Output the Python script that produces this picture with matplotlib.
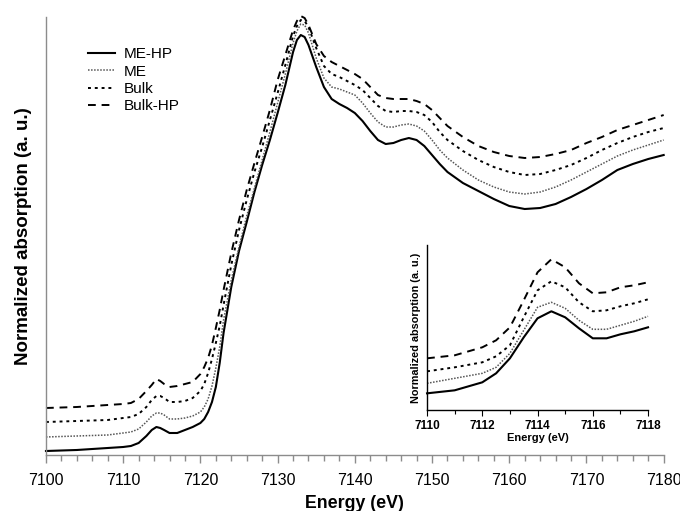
import numpy as np
import matplotlib
matplotlib.use('Agg')
import matplotlib.pyplot as plt
from matplotlib.ticker import MultipleLocator

plt.rcParams['font.family'] = ['Liberation Sans', 'DejaVu Sans']

# Main spectra (normalized absorption, offset for clarity)
energy = [7100, 7104, 7108, 7110, 7111, 7112, 7113, 7113.7, 7114.3, 7114.8,
          7115.3, 7116, 7117, 7118, 7119, 7120, 7120.5, 7121, 7121.5, 7122,
          7122.5, 7123, 7124, 7125, 7126, 7127, 7128, 7129, 7130, 7131,
          7132, 7132.5, 7133, 7133.5, 7134, 7135, 7136, 7137, 7138, 7139,
          7140, 7141, 7142, 7143, 7144, 7145, 7146, 7147, 7148, 7149,
          7150, 7151, 7152, 7154, 7156, 7158, 7160, 7162, 7164, 7166,
          7168, 7170, 7172, 7174, 7176, 7178, 7180]

me_hp = [0.04, 0.05, 0.07, 0.08, 0.09, 0.12, 0.19, 0.25, 0.28, 0.27,
         0.25, 0.22, 0.22, 0.25, 0.28, 0.32, 0.36, 0.43, 0.53, 0.68,
         0.92, 1.22, 1.68, 2.04, 2.33, 2.63, 2.90, 3.15, 3.42, 3.70,
         4.03, 4.15, 4.20, 4.18, 4.10, 3.88, 3.68, 3.56, 3.51, 3.47,
         3.42, 3.34, 3.24, 3.15, 3.11, 3.12, 3.15, 3.17, 3.15, 3.09,
         3.00, 2.91, 2.83, 2.72, 2.64, 2.56, 2.49, 2.46, 2.47, 2.51,
         2.58, 2.66, 2.75, 2.85, 2.91, 2.96, 3.00]

me = [0.18, 0.19, 0.20, 0.22, 0.23, 0.26, 0.33, 0.39, 0.42, 0.42,
      0.40, 0.36, 0.36, 0.37, 0.39, 0.43, 0.48, 0.56, 0.69, 0.87,
      1.08, 1.35, 1.75, 2.08, 2.39, 2.67, 2.95, 3.23, 3.52, 3.81,
      4.12, 4.24, 4.31, 4.30, 4.22, 3.97, 3.77, 3.68, 3.66, 3.63,
      3.60, 3.52, 3.42, 3.33, 3.28, 3.28, 3.30, 3.31, 3.29, 3.24,
      3.15, 3.05, 2.97, 2.85, 2.75, 2.68, 2.63, 2.61, 2.63, 2.68,
      2.75, 2.83, 2.91, 2.99, 3.05, 3.10, 3.15]

bulk = [0.33, 0.34, 0.35, 0.37, 0.38, 0.41, 0.48, 0.55, 0.59, 0.59,
        0.57, 0.53, 0.53, 0.54, 0.57, 0.64, 0.71, 0.82, 0.96, 1.12,
        1.29, 1.50, 1.90, 2.25, 2.55, 2.83, 3.08, 3.35, 3.62, 3.90,
        4.19, 4.29, 4.35, 4.34, 4.28, 4.07, 3.89, 3.81, 3.78, 3.74,
        3.70, 3.65, 3.57, 3.49, 3.44, 3.43, 3.44, 3.44, 3.43, 3.40,
        3.33, 3.23, 3.15, 3.04, 2.95, 2.88, 2.83, 2.80, 2.81, 2.85,
        2.90, 2.97, 3.05, 3.12, 3.18, 3.23, 3.27]

bulk_hp = [0.47, 0.48, 0.50, 0.51, 0.52, 0.56, 0.64, 0.70, 0.76, 0.74,
           0.71, 0.68, 0.69, 0.71, 0.73, 0.81, 0.88, 0.97, 1.10, 1.27,
           1.45, 1.65, 2.02, 2.35, 2.65, 2.92, 3.18, 3.45, 3.75, 4.00,
           4.25, 4.34, 4.39, 4.37, 4.30, 4.11, 3.99, 3.93, 3.89, 3.85,
           3.81, 3.76, 3.68, 3.60, 3.57, 3.56, 3.56, 3.56, 3.54, 3.51,
           3.45, 3.37, 3.29, 3.18, 3.09, 3.03, 2.99, 2.97, 2.98, 3.01,
           3.05, 3.12, 3.18, 3.25, 3.30, 3.35, 3.40]

# Pre-edge inset
energy_in = [7110, 7111, 7112, 7112.5, 7113, 7113.5, 7114, 7114.5, 7115,
             7115.5, 7116, 7116.5, 7117, 7117.5, 7118]
me_hp_in = [0.19, 0.22, 0.30, 0.39, 0.54, 0.75, 0.94, 1.01, 0.95, 0.84, 0.74, 0.74, 0.78, 0.81, 0.85]
me_in = [0.29, 0.34, 0.39, 0.45, 0.59, 0.82, 1.05, 1.10, 1.04, 0.92, 0.83, 0.83, 0.87, 0.91, 0.96]
bulk_in = [0.41, 0.45, 0.50, 0.56, 0.67, 0.95, 1.22, 1.31, 1.25, 1.10, 1.01, 1.02, 1.06, 1.09, 1.13]
bulk_hp_in = [0.54, 0.57, 0.65, 0.72, 0.85, 1.12, 1.40, 1.53, 1.45, 1.29, 1.19, 1.20, 1.25, 1.27, 1.30]

labels = ['ME-HP', 'ME', 'Bulk', 'Bulk-HP']
styles = [
    dict(color='black', lw=1.5, ls='-'),
    dict(color='#555555', lw=1.1, ls=(0, (1, 1))),
    dict(color='black', lw=1.4, ls=(0, (1.5, 2))),
    dict(color='black', lw=1.4, ls=(0, (4, 3))),
]

fig = plt.figure(figsize=(6.8, 5.11), dpi=100)
ax = fig.add_axes([0.0676, 0.1096, 0.9084, 0.8571])

for y, lab, st in zip([me_hp, me, bulk, bulk_hp], labels, styles):
    ax.plot(energy, y, label=lab, clip_on=False, solid_joinstyle='round', **st)

ax.set_xlim(7100, 7180)
ax.set_ylim(0, 4.38)
ax.xaxis.set_major_locator(MultipleLocator(10))
ax.xaxis.set_minor_locator(MultipleLocator(2))
ax.set_yticks([])
for s in ['top', 'right']:
    ax.spines[s].set_visible(False)
for s in ['left', 'bottom']:
    ax.spines[s].set_color('#8c8c8c')
    ax.spines[s].set_linewidth(1.0)
ax.tick_params(axis='x', which='major', direction='out', length=6, width=1,
               color='#8c8c8c', labelsize=11.5, pad=7)
ax.tick_params(axis='x', which='minor', direction='out', length=4, width=1,
               color='#8c8c8c')
ax.set_xlabel('Energy (eV)', fontsize=12.8, fontweight='bold', labelpad=5)
ax.set_ylabel('Normalized absorption (a. u.)', fontsize=13.5, fontweight='bold', labelpad=10)

leg = ax.legend(loc='upper left', bbox_to_anchor=(0.045, 0.962), frameon=False,
                fontsize=11, handlelength=1.8, handletextpad=0.6, labelspacing=0.22)

# inset
axi = fig.add_axes([0.628, 0.197, 0.325, 0.323])
for y, st in zip([me_hp_in, me_in, bulk_in, bulk_hp_in], styles):
    axi.plot(energy_in, y, clip_on=False, solid_joinstyle='round', **st)
axi.set_xlim(7110, 7118)
axi.set_ylim(0.02, 1.67)
axi.xaxis.set_major_locator(MultipleLocator(2))
axi.xaxis.set_minor_locator(MultipleLocator(1))
axi.set_yticks([])
axi.patch.set_alpha(0)
for s in ['top', 'right']:
    axi.spines[s].set_visible(False)
for s in ['left', 'bottom']:
    axi.spines[s].set_color('black')
    axi.spines[s].set_linewidth(1.0)
axi.tick_params(axis='x', which='major', direction='out', length=4, width=0.8,
                labelsize=8.5, pad=3)
axi.tick_params(axis='x', which='minor', direction='out', length=3, width=0.8)
for t in axi.get_xticklabels():
    t.set_fontweight('bold')
axi.set_xlabel('Energy (eV)', fontsize=8, fontweight='bold', labelpad=1)
axi.set_ylabel('Normalized absorption (a. u.)', fontsize=7.8, fontweight='bold', labelpad=4)

fig.savefig('out.png', dpi=100)
